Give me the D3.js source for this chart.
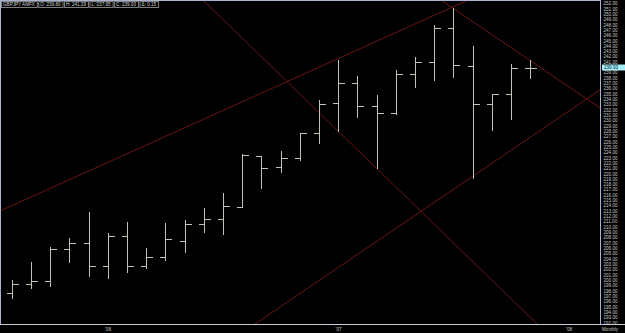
<!DOCTYPE html>
<html>
<head>
<meta charset="utf-8">
<script src="https://cdn.jsdelivr.net/npm/d3@7"></script>
<style>
body { margin: 0; background: #000; }
text { font-family: "Liberation Sans", Arial, sans-serif; }
</style>
</head>
<body>
<div id="chart"></div>
<script>
// monthly GBPJPY bars, Aug 2005 .. Nov 2007
let months = ["2005-08","2005-09","2005-10","2005-11","2005-12",
  "2006-01","2006-02","2006-03","2006-04","2006-05","2006-06","2006-07","2006-08","2006-09","2006-10","2006-11","2006-12",
  "2007-01","2007-02","2007-03","2007-04","2007-05","2007-06","2007-07","2007-08","2007-09","2007-10","2007-11"]
let opens  = [197.49,199.24,199.86,205.76,206.89,202.53,208.32,202.68,204.31,207.26,210.52,211.45,213.77,223.30,221.17,222.86,227.56,233.20,236.98,232.70,231.32,238.71,241.02,247.30,240.21,233.13,234.89,239.80]
let highs  = [200.00,203.32,206.25,207.94,212.83,208.82,210.95,205.95,210.65,211.27,213.47,216.40,223.67,223.30,224.24,227.56,233.82,241.34,238.33,234.76,239.46,241.85,247.92,251.06,243.97,234.95,240.53,241.39]
let lows   = [196.55,198.43,198.92,203.32,200.83,200.31,201.49,202.19,203.75,205.20,209.07,208.60,213.77,217.23,220.35,222.55,225.68,228.05,230.68,220.98,231.19,236.32,237.58,238.20,219.22,228.18,230.20,237.95]
let closes = [199.24,199.86,205.82,206.89,202.68,208.32,202.68,204.31,207.64,210.52,211.42,213.90,223.48,220.98,222.86,227.56,233.07,236.96,232.70,231.32,238.71,241.02,247.30,240.40,233.13,234.89,239.80,239.93]

let priceTicks = d3.range(192, 253)
let yearIdx = [5, 17, 29]
let yearLabels = ["'06", "'07", "'08"]

// trendlines as [bar index, price] pairs
let trendlines = [
  [[-0.61, 212.96], [23.77, 252.62]],
  [[9.96, 252.62], [20.22, 216.72]],
  [[12.67, 191.72], [30.02, 234.20]],
  [[22.48, 252.30], [30.55, 232.56]]
]

let header = ["GBPJPY AMFX", "O: 239.80", "H: 241.39", "L: 237.95", "C: 239.93", "\u0394: 0.15"]
let lastPrice = 239.93

let W = 625, H = 333
let plotR = 600.5, plotB = 324.5

let svg = d3.select("#chart").append("svg")
  .attr("width", W)
  .attr("height", H)
  .style("background", "#000")

let x = d3.scaleLinear().domain([0, 27]).range([11.7, 530.1])
let y = d3.scaleLinear().domain([193, 252]).range([317.2, 3.3])

svg.append("clipPath").attr("id", "plot")
  .append("rect").attr("x", 0).attr("y", 0).attr("width", plotR).attr("height", plotB)

// trendlines
let tl = svg.append("g").attr("clip-path", "url(#plot)")
trendlines.forEach(function (t) {
  let x0 = x(t[0][0]), y0 = y(t[0][1]), x1 = x(t[1][0]), y1 = y(t[1][1])
  let k = (y1 - y0) / (x1 - x0)
  tl.append("line")
    .attr("x1", -50).attr("y1", y0 + k * (-50 - x0))
    .attr("x2", 700).attr("y2", y0 + k * (700 - x0))
    .style("stroke", "#761616")
    .style("stroke-width", 0.9)
})

// OHLC bars
let snap = v => Math.round(v) + 0.5
let bars = svg.append("g")
  .style("stroke", "#bcc6b6")
  .style("stroke-width", 1)
  .style("shape-rendering", "crispEdges")
months.forEach(function (m, i) {
  let cx = snap(x(i))
  bars.append("line").attr("x1", cx).attr("x2", cx)
    .attr("y1", Math.round(y(highs[i]))).attr("y2", Math.round(y(lows[i])) + 1)
  bars.append("line").attr("x1", cx - 6).attr("x2", cx)
    .attr("y1", snap(y(opens[i]))).attr("y2", snap(y(opens[i])))
  bars.append("line").attr("x1", cx).attr("x2", cx + 6)
    .attr("y1", snap(y(closes[i]))).attr("y2", snap(y(closes[i])))
})

// price axis on the right
let yLast = y(lastPrice)
let yAxis = svg.append("g")
  .attr("transform", "translate(" + plotR + ",0)")
  .call(d3.axisRight(y).tickValues(priceTicks.filter(p => Math.abs(y(p) - yLast) > 4))
    .tickSize(0).tickPadding(3).tickFormat(d3.format(".2f")))
yAxis.select(".domain").remove()
yAxis.selectAll("text")
  .style("fill", "#c8c8c8")
  .style("font-size", "4.6px")

// last price marker
svg.append("rect")
  .attr("x", plotR + 1.5).attr("y", yLast - 3)
  .attr("width", 23).attr("height", 6)
  .style("fill", "#a8eef6")
svg.append("text")
  .attr("x", plotR + 3.5).attr("y", yLast)
  .attr("dy", "0.35em")
  .style("font-size", "4.6px")
  .style("fill", "#002040")
  .text(d3.format(".2f")(lastPrice))

// time axis
let xAxis = svg.append("g")
  .attr("transform", "translate(0," + plotB + ")")
  .call(d3.axisBottom(x).tickValues(yearIdx).tickSize(0).tickPadding(3)
    .tickFormat((d, i) => yearLabels[i]))
xAxis.select(".domain").remove()
xAxis.selectAll("text")
  .style("fill", "#c8c8c8")
  .style("font-size", "4.6px")

svg.append("text")
  .attr("x", 602).attr("y", 331)
  .style("font-size", "4.6px")
  .style("fill", "#c8c8c8")
  .text("Monthly")

// frame
svg.append("rect")
  .attr("x", 0.5).attr("y", 0.5)
  .attr("width", plotR - 0.5).attr("height", plotB - 0.5)
  .style("fill", "none")
  .style("stroke", "#aab2d4")
  .style("stroke-width", 1)
svg.append("line")
  .attr("x1", 0).attr("x2", W).attr("y1", plotB).attr("y2", plotB)
  .style("stroke", "#c8ccd8")

// header boxes
let hx = 1
header.forEach(function (h) {
  let g = svg.append("g")
  let t = g.append("text")
    .attr("x", hx + 2).attr("y", 4.2)
    .attr("dy", "0.35em")
    .style("font-size", "4.6px")
    .style("fill", "#d0d0d0")
    .text(h)
  let w = t.node().getComputedTextLength() + 4
  g.insert("rect", "text")
    .attr("x", hx + 0.5).attr("y", 1.5)
    .attr("width", w).attr("height", 6)
    .style("fill", "#000")
    .style("stroke", "#808080")
  hx += w + 1.5
})
</script>
</body>
</html>
